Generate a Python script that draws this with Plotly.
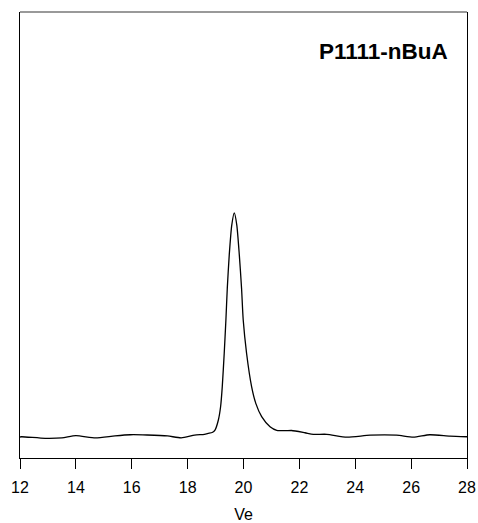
import plotly.graph_objects as go

# Elution volume (Ve) and normalized detector signal
ve = [12.00, 12.06, 12.90, 13.50, 14.00, 14.70, 15.40, 15.95, 16.55, 17.28, 17.77,
      18.25, 18.60, 18.74, 18.88, 18.98, 19.10, 19.18, 19.24, 19.31, 19.37, 19.42,
      19.49, 19.58, 19.67, 19.76, 19.85, 19.93, 19.99, 20.11, 20.29, 20.44, 20.65,
      20.95, 21.19, 21.50, 21.72, 22.20, 22.50, 22.98, 23.70, 24.53, 25.48, 26.08,
      26.67, 27.39, 28.00]
signal = [0.000, 0.001, -0.006, -0.004, 0.006, -0.004, 0.005, 0.010, 0.009, 0.005, -0.004,
          0.008, 0.012, 0.016, 0.020, 0.031, 0.076, 0.135, 0.225, 0.374, 0.522, 0.665,
          0.813, 0.946, 1.000, 0.946, 0.813, 0.665, 0.522, 0.374, 0.225, 0.150, 0.091,
          0.046, 0.030, 0.028, 0.029, 0.019, 0.012, 0.012, -0.001, 0.008, 0.008, -0.001,
          0.010, 0.004, 0.001]

x_ticks = [12, 14, 16, 18, 20, 22, 24, 26, 28]
label = "P1111-nBuA"

fig = go.Figure()
fig.add_trace(go.Scatter(x=ve, y=signal, mode="lines",
                         line=dict(color="black", width=1.3, shape="spline", smoothing=0.6),
                         showlegend=False, hoverinfo="skip"))

fig.update_layout(
    width=478, height=523,
    margin=dict(l=20, r=11, t=12, b=65),
    paper_bgcolor="white", plot_bgcolor="white",
    font=dict(family="Liberation Sans, Arial, sans-serif", size=16, color="black"),
    xaxis=dict(range=[12, 28], tickvals=x_ticks, ticks="outside", ticklen=10,
               tickwidth=1, tickcolor="black", showline=True, linecolor="black",
               linewidth=1, showgrid=False, zeroline=False, automargin=False,
               ticklabelstandoff=5,
               title=dict(text="Ve", standoff=15, font=dict(size=16)),
               tickfont=dict(size=16)),
    yaxis=dict(range=[-0.09375, 1.897], showticklabels=False, ticks="",
               showline=True, linecolor="black", linewidth=1, mirror=True,
               showgrid=False, zeroline=False, automargin=False),
    shapes=[dict(type="line", xref="paper", yref="paper", x0=0, x1=1, y0=1, y1=1,
                 line=dict(color="#777777", width=1.5))],
    annotations=[dict(text="<b>%s</b>" % label, xref="paper", yref="paper",
                      x=0.962, y=0.912, xanchor="right", yanchor="middle",
                      showarrow=False, font=dict(size=22.5, color="black"))],
)

fig.write_html("out.html", config={"displayModeBar": False},
               post_script="document.body.style.margin='0';")
